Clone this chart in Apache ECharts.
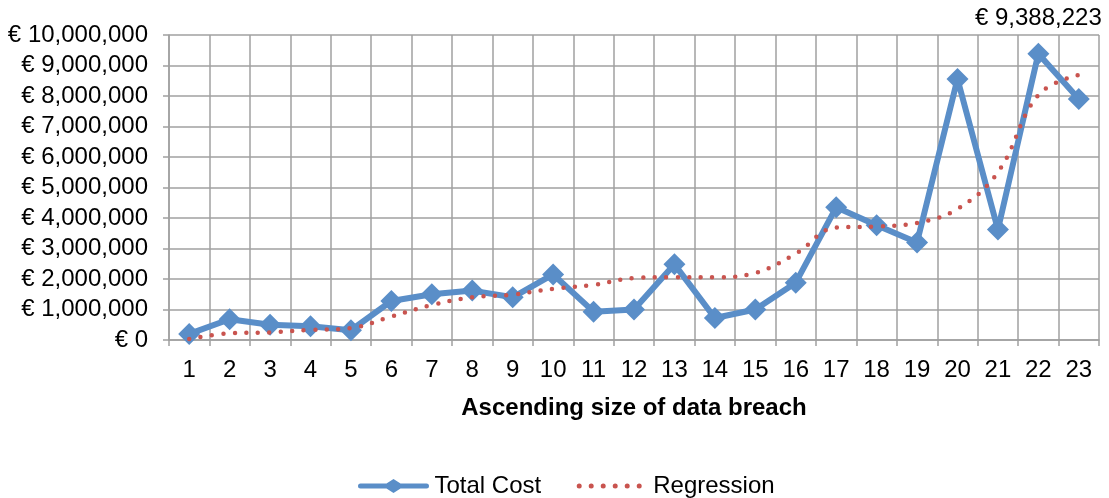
<!DOCTYPE html>
<html>
<head>
<meta charset="utf-8">
<style>
  html, body { margin: 0; padding: 0; background: #fff; }
  #chart { width: 1109px; height: 498px; }
</style>
<script src="https://cdn.jsdelivr.net/npm/echarts@6/dist/echarts.min.js"></script>
</head>
<body>
<div id="chart"></div>
<script>
// Data
const categories = ['1','2','3','4','5','6','7','8','9','10','11','12','13','14','15','16','17','18','19','20','21','22','23'];
const totalCost = [200000, 680000, 500000, 450000, 320000, 1280000, 1500000, 1620000, 1400000, 2150000, 930000, 1000000, 2480000, 720000, 1000000, 1880000, 4350000, 3760000, 3200000, 8560000, 3620000, 9388223, 7900000];
const regression = [30000, 220000, 250000, 330000, 390000, 770000, 1150000, 1400000, 1490000, 1680000, 1810000, 2030000, 2060000, 2060000, 2200000, 2830000, 3690000, 3720000, 3840000, 4300000, 5500000, 8030000, 8690000];
const highlightIndex = 21;
const highlightLabel = '€ 9,388,223';
const xAxisName = 'Ascending size of data breach';
const seriesNames = ['Total Cost', 'Regression'];

const FONT = '"Liberation Sans", Arial, sans-serif';
const FS = 24;
const BLUE = '#5A8EC8';
const RED = '#C9544F';
const GRID = '#A0A0A0';

function euro(v) {
  return '€ ' + Math.round(v).toString().replace(/\B(?=(\d{3})+(?!\d))/g, ',');
}

// legend icons (72 x 14 box)
const lineDiamondIcon = 'path://M3,4.5 L29,4.5 L36,0 L43,4.5 L69,4.5 A2.5,2.5 0 0,1 69,9.5 L43,9.5 L36,14 L29,9.5 L3,9.5 A2.5,2.5 0 0,1 3,4.5 Z';
let dots = 'M0,0 L0,0 Z M72,14 L72,14 Z ';
for (let i = 0; i < 6; i++) {
  const cx = 3 + i * 12;
  dots += 'M' + (cx - 2.5) + ',7 A2.5,2.5 0 1,0 ' + (cx + 2.5) + ',7 A2.5,2.5 0 1,0 ' + (cx - 2.5) + ',7 Z ';
}
const dottedIcon = 'path://' + dots;

const costData = totalCost.map((v, i) => i === highlightIndex
  ? { value: v, label: { show: true, position: 'top', distance: 12, formatter: highlightLabel,
      color: '#000', fontSize: FS, fontFamily: FONT } }
  : v);

const chart = echarts.init(document.getElementById('chart'), null, { renderer: 'canvas' });
chart.setOption({
  animation: false,
  backgroundColor: '#fff',
  grid: { left: 169, right: 10, top: 35, bottom: 158, containLabel: false },
  legend: {
    bottom: 0,
    left: 358,
    padding: 0,
    itemWidth: 72,
    itemHeight: 14,
    itemGap: 35,
    textStyle: { fontFamily: FONT, fontSize: FS, color: '#000' },
    data: [
      { name: seriesNames[0], icon: lineDiamondIcon },
      { name: seriesNames[1], icon: dottedIcon }
    ]
  },
  xAxis: {
    type: 'category',
    data: categories,
    boundaryGap: true,
    name: xAxisName,
    nameLocation: 'middle',
    nameGap: 56,
    nameTextStyle: { fontFamily: FONT, fontSize: FS, fontWeight: 'bold', color: '#000' },
    axisLine: { show: true, lineStyle: { color: GRID, width: 1.5 } },
    axisTick: { show: true, length: 6, alignWithLabel: false, lineStyle: { color: GRID, width: 1.5 } },
    axisLabel: { fontFamily: FONT, fontSize: FS, color: '#000', margin: 18, interval: 0 },
    splitLine: { show: true, interval: 0, lineStyle: { color: GRID, width: 1.5 } }
  },
  yAxis: {
    type: 'value',
    min: 0,
    max: 10000000,
    interval: 1000000,
    axisLine: { show: true, lineStyle: { color: GRID, width: 1.5 } },
    axisTick: { show: true, length: 6, lineStyle: { color: GRID, width: 1.5 } },
    axisLabel: { fontFamily: FONT, fontSize: FS, color: '#000', margin: 21, formatter: euro },
    splitLine: { show: true, lineStyle: { color: GRID, width: 1.5 } }
  },
  series: [
    {
      name: seriesNames[0],
      type: 'line',
      data: costData,
      symbol: 'diamond',
      symbolSize: 22,
      itemStyle: { color: BLUE },
      lineStyle: { color: BLUE, width: 6 },
      z: 3
    },
    {
      name: seriesNames[1],
      type: 'line',
      data: regression,
      smooth: 0.4,
      symbol: 'none',
      itemStyle: { color: RED },
      lineStyle: { color: RED, width: 4.5, type: [0, 11.5], cap: 'round' },
      z: 4
    }
  ]
});
</script>
</body>
</html>
